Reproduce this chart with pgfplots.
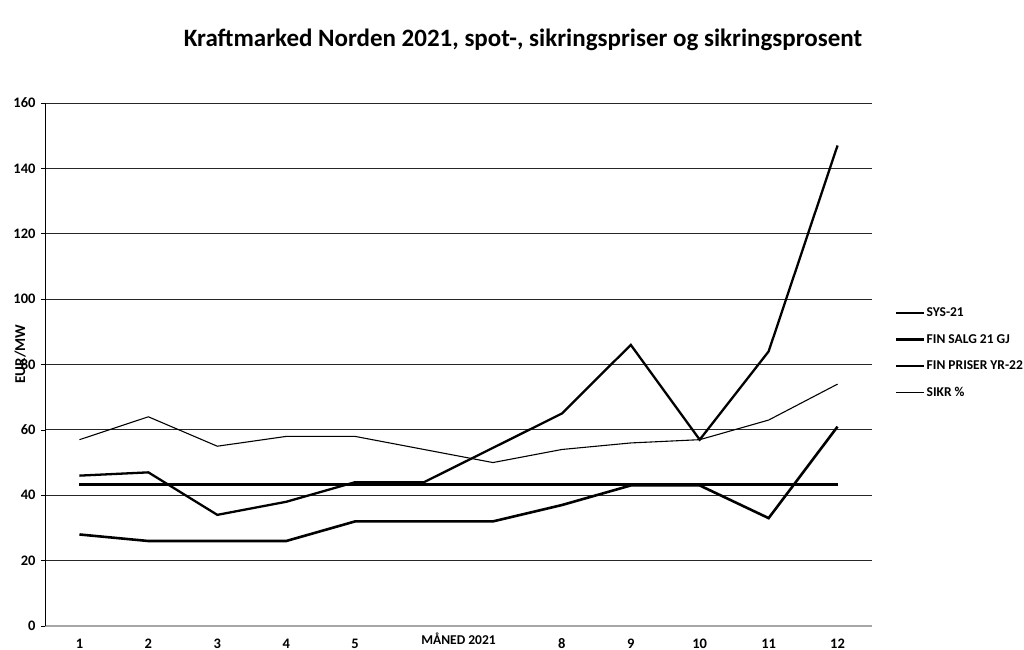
\documentclass[border=0pt]{standalone}
\usepackage{fontspec}
\setmainfont{Carlito}
\usepackage{pgfplots}
\pgfplotsset{compat=1.18}
\begin{document}
\begin{tikzpicture}
\path[use as bounding box] (0,0) rectangle (1024bp,650bp);
\node[font=\bfseries\fontsize{25bp}{30bp}\selectfont, anchor=center] at (523bp,610bp) {Kraftmarked Norden 2021, spot-, sikringspriser og sikringsprosent};
\begin{axis}[
  at={(45bp,24bp)}, anchor=south west,
  scale only axis, width=827bp, height=523bp,
  xmin=0.5, xmax=12.5, ymin=0, ymax=160,
  axis lines*=left,
  x axis line style={draw=gray!70, line width=1.2pt},
  y axis line style={draw=black, line width=0.9pt},
  xtick={1,...,12},
  xticklabels={1,2,3,4,5,{},{},8,9,10,11,12},
  extra x ticks={6.5},
  extra x tick labels={MÅNED 2021},
  extra x tick style={major tick length=0pt, grid=none, xticklabel style={anchor=base, font=\bfseries\fontsize{13.5bp}{15bp}\selectfont}},
  ytick={0,20,...,160},
  ymajorgrids,
  major grid style={draw=black!85, line width=0.8pt},
  major tick length=4bp,
  tick style={black, line width=0.6pt},
  xtick style={draw=none},
  tick align=outside,
  /pgf/number format/assume math mode=true,
  ticklabel style={font=\bfseries\fontsize{14.5bp}{16bp}\selectfont},
  yticklabel style={xshift=-2bp},
  xticklabel style={anchor=base, yshift=-18bp},
  ylabel={EUR/MW},
  ylabel style={at={(axis description cs:-0.030,0.52)}, anchor=center, font=\bfseries\fontsize{15bp}{17bp}\selectfont},
  legend style={at={(axis description cs:1.027,0.612)}, anchor=north west, draw=none, fill=none,
    font=\bfseries\fontsize{13.5bp}{15bp}\selectfont, row sep=12bp, inner sep=0pt,
    legend cell align=left, nodes={inner xsep=1bp}},
  legend image code/.code={\draw[#1] (0bp,0bp) -- (28bp,0bp);},
]
\addplot[black, line width=2.3pt] coordinates {(1,46) (2,47) (3,34) (4,38) (5,44) (6,44) (7,54.5) (8,65) (9,86) (10,57) (11,84) (12,147)};
\addlegendentry{SYS-21}
\addplot[black, line width=3.2pt] coordinates {(1,43.3) (2,43.3) (3,43.3) (4,43.3) (5,43.3) (6,43.3) (7,43.3) (8,43.3) (9,43.3) (10,43.3) (11,43.3) (12,43.3)};
\addlegendentry{FIN SALG 21 GJ}
\addplot[black, line width=2.6pt] coordinates {(1,28) (2,26) (3,26) (4,26) (5,32) (6,32) (7,32) (8,37) (9,43) (10,43) (11,33) (12,61)};
\addlegendentry{FIN PRISER YR-22}
\addplot[black, line width=1.1pt] coordinates {(1,57) (2,64) (3,55) (4,58) (5,58) (6,54) (7,50) (8,54) (9,56) (10,57) (11,63) (12,74)};
\addlegendentry{SIKR \%}
\end{axis}
\end{tikzpicture}
\end{document}
